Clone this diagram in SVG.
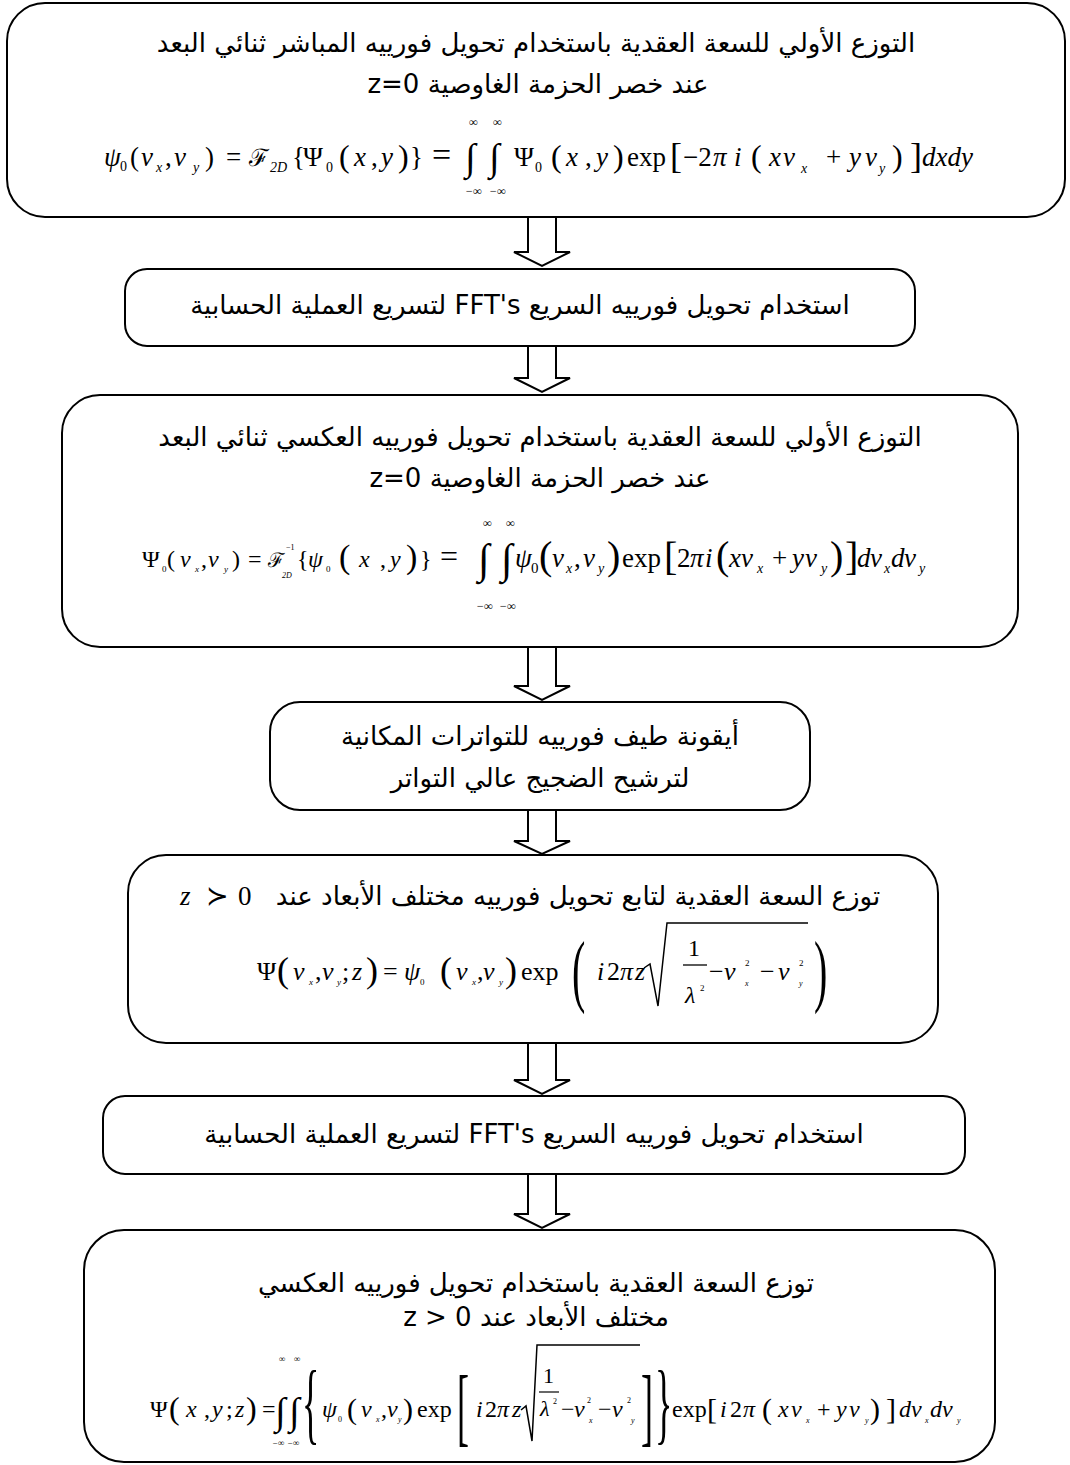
<svg xmlns="http://www.w3.org/2000/svg" width="1070" height="1465" viewBox="0 0 1070 1465">
<style>
.box{fill:#fff;stroke:#000;stroke-width:2}
.arr{fill:#fff;stroke:#000;stroke-width:2;stroke-linejoin:miter}
.ar{font-family:"DejaVu Sans","Noto Sans",sans-serif;font-size:26px;text-anchor:middle;direction:rtl;fill:#000}
.m{font-family:"Liberation Serif","DejaVu Serif",serif;fill:#000}
.i{font-style:italic}
.lim{font-family:"Liberation Serif",serif;font-style:italic}
</style>
<rect width="1070" height="1465" fill="#fff"/>
<g id="connectors">
<path class="arr" d="M528 217V252H514L542 266L570 252H556V217"/>
<path class="arr" d="M528 346V378H514L542 392L570 378H556V346"/>
<path class="arr" d="M528 647V686H514L542 700L570 686H556V647"/>
<path class="arr" d="M528 810V841H514L542 854L570 841H556V810"/>
<path class="arr" d="M528 1043V1080H514L542 1094L570 1080H556V1043"/>
<path class="arr" d="M528 1174V1214H514L542 1228L570 1214H556V1174"/>
</g>
<g id="n1">
<rect class="box" x="7" y="3" width="1058" height="214" rx="38"/>
<text class="ar" x="536" y="52">التوزع الأولي للسعة العقدية باستخدام تحويل فورييه المباشر ثنائي البعد</text>
<text class="ar" x="538" y="93">عند خصر الحزمة الغاوصية z=0</text>
<text class="m" y="166" style="font-size:27px"><tspan class="i" x="104">ψ</tspan><tspan x="120" y="171" style="font-size:14px">0</tspan><tspan x="130" y="166">(</tspan><tspan class="i" x="141">ν</tspan><tspan class="i" x="156" y="172" style="font-size:14px">x</tspan><tspan x="165" y="166">,</tspan><tspan class="i" x="174">ν</tspan><tspan class="i" x="193" y="172" style="font-size:14px">y</tspan><tspan x="205" y="166">)</tspan><tspan x="226">=</tspan><tspan x="249" style="font-size:24px">ℱ</tspan><tspan class="i" x="270" y="172" style="font-size:14px">2D</tspan><tspan x="292" y="166">{</tspan><tspan x="303">Ψ</tspan><tspan x="326" y="172" style="font-size:14px">0</tspan><tspan x="339" y="167" style="font-size:32px">(</tspan><tspan class="i" x="354" y="166">x</tspan><tspan x="371">,</tspan><tspan class="i" x="381">y</tspan><tspan x="398" y="167" style="font-size:32px">)</tspan><tspan x="410" y="166">}</tspan><tspan x="432" style="font-size:34px">=</tspan><tspan x="465" y="170" style="font-size:38px">∫</tspan><tspan x="489" style="font-size:38px">∫</tspan><tspan x="514" y="166">Ψ</tspan><tspan x="535" y="172" style="font-size:14px">0</tspan><tspan x="551" y="167" style="font-size:32px">(</tspan><tspan class="i" x="566" y="166">x</tspan><tspan x="585">,</tspan><tspan class="i" x="596">y</tspan><tspan x="613" y="167" style="font-size:32px">)</tspan><tspan x="627" y="166">exp</tspan><tspan x="670" y="168" style="font-size:36px">[</tspan><tspan x="683" y="166">−2</tspan><tspan class="i" x="713">π</tspan><tspan class="i" x="734">i</tspan><tspan x="751" y="167" style="font-size:32px">(</tspan><tspan class="i" x="769" y="166">x</tspan><tspan class="i" x="783">ν</tspan><tspan class="i" x="801" y="173" style="font-size:14px">x</tspan><tspan x="826" y="166">+</tspan><tspan class="i" x="849">y</tspan><tspan class="i" x="865">ν</tspan><tspan class="i" x="879" y="173" style="font-size:14px">y</tspan><tspan x="892" y="167" style="font-size:32px">)</tspan><tspan x="910" y="168" style="font-size:36px">]</tspan><tspan class="i" x="922" y="166">dxdy</tspan></text>
<text class="lim" x="469" y="126" style="font-size:12px">∞</text><text class="lim" x="493" y="126" style="font-size:12px">∞</text>
<text class="lim" x="465" y="195" style="font-size:12px">−∞</text><text class="lim" x="489" y="195" style="font-size:12px">−∞</text>
</g>
<g id="n2">
<rect class="box" x="125" y="269" width="790" height="77" rx="22"/>
<text class="ar" x="520" y="314">استخدام تحويل فورييه السريع FFT's لتسريع العملية الحسابية</text>
</g>
<g id="n3">
<rect class="box" x="62" y="395" width="956" height="252" rx="38"/>
<text class="ar" x="540" y="446">التوزع الأولي للسعة العقدية باستخدام تحويل فورييه العكسي ثنائي البعد</text>
<text class="ar" x="540" y="487">عند خصر الحزمة الغاوصية z=0</text>
<text class="m" y="567" style="font-size:24px"><tspan x="142">Ψ</tspan><tspan x="162" y="572" style="font-size:9px">0</tspan><tspan x="167" y="567">(</tspan><tspan class="i" x="180">ν</tspan><tspan class="i" x="195" y="572" style="font-size:9px">x</tspan><tspan x="201" y="567">,</tspan><tspan class="i" x="208">ν</tspan><tspan class="i" x="224" y="572" style="font-size:9px">y</tspan><tspan x="232" y="567">)</tspan><tspan x="248">=</tspan><tspan x="268" style="font-size:20px">ℱ</tspan><tspan x="286" y="550" style="font-size:8px">−1</tspan><tspan class="i" x="282" y="578" style="font-size:8px">2D</tspan><tspan x="297" y="567">{</tspan><tspan class="i" x="308">ψ</tspan><tspan x="326" y="572" style="font-size:9px">0</tspan><tspan x="339" y="568" style="font-size:34px">(</tspan><tspan class="i" x="359" y="567">x</tspan><tspan x="380">,</tspan><tspan class="i" x="390">y</tspan><tspan x="406" y="568" style="font-size:34px">)</tspan><tspan x="420" y="567">}</tspan><tspan x="440" style="font-size:32px">=</tspan><tspan x="478" y="573" style="font-size:42px">∫</tspan><tspan x="501" style="font-size:42px">∫</tspan><tspan class="i" x="515" y="567" style="font-size:27px">ψ</tspan><tspan x="531" y="573" style="font-size:15px">0</tspan><tspan x="539" y="569" style="font-size:40px">(</tspan><tspan class="i" x="552" y="567" style="font-size:27px">ν</tspan><tspan class="i" x="566" y="573" style="font-size:14px">x</tspan><tspan x="574" y="567" style="font-size:27px">,</tspan><tspan class="i" x="583" style="font-size:27px">ν</tspan><tspan class="i" x="598" y="573" style="font-size:14px">y</tspan><tspan x="607" y="569" style="font-size:40px">)</tspan><tspan x="622" y="567" style="font-size:27px">exp</tspan><tspan x="664" y="570" style="font-size:40px">[</tspan><tspan x="677" y="567" style="font-size:27px">2</tspan><tspan class="i" x="690" style="font-size:27px">π</tspan><tspan class="i" x="705" style="font-size:27px">i</tspan><tspan x="716" y="569" style="font-size:40px">(</tspan><tspan class="i" x="729" y="567" style="font-size:27px">x</tspan><tspan class="i" x="741" style="font-size:27px">ν</tspan><tspan class="i" x="757" y="573" style="font-size:14px">x</tspan><tspan x="772" y="567" style="font-size:27px">+</tspan><tspan class="i" x="792" style="font-size:27px">y</tspan><tspan class="i" x="805" style="font-size:27px">ν</tspan><tspan class="i" x="821" y="573" style="font-size:14px">y</tspan><tspan x="830" y="569" style="font-size:40px">)</tspan><tspan x="845" y="570" style="font-size:40px">]</tspan><tspan class="i" x="857" y="567" style="font-size:27px">d</tspan><tspan class="i" x="870" style="font-size:27px">ν</tspan><tspan class="i" x="884" y="573" style="font-size:14px">x</tspan><tspan class="i" x="891" y="567" style="font-size:27px">d</tspan><tspan class="i" x="904" style="font-size:27px">ν</tspan><tspan class="i" x="919" y="573" style="font-size:14px">y</tspan></text>
<text class="lim" x="483" y="527" style="font-size:12px">∞</text><text class="lim" x="506" y="527" style="font-size:12px">∞</text>
<text class="lim" x="476" y="610" style="font-size:12px">−∞</text><text class="lim" x="499" y="610" style="font-size:12px">−∞</text>
</g>
<g id="n4">
<rect class="box" x="270" y="702" width="540" height="108" rx="30"/>
<text class="ar" x="540" y="745">أيقونة طيف فورييه للتواترات المكانية</text>
<text class="ar" x="540" y="787">لترشيح الضجيج عالي التواتر</text>
</g>
<g id="n5">
<rect class="box" x="128" y="855" width="810" height="188" rx="38"/>
<text class="ar" x="578" y="905">توزع السعة العقدية لتابع تحويل فورييه مختلف الأبعاد عند</text>
<text class="m i" x="180" y="905" style="font-size:27px">z</text><text class="m" x="206" y="905" style="font-size:27px">≻</text><text class="m" x="238" y="905" style="font-size:27px">0</text>
<text class="m" y="980" style="font-size:26px"><tspan x="257">Ψ</tspan><tspan x="277" y="982" style="font-size:36px">(</tspan><tspan class="i" x="293" y="980">ν</tspan><tspan class="i" x="309" y="985" style="font-size:9px">x</tspan><tspan x="315" y="980">,</tspan><tspan class="i" x="322">ν</tspan><tspan class="i" x="337" y="985" style="font-size:9px">y</tspan><tspan x="342" y="980">;</tspan><tspan class="i" x="352">z</tspan><tspan x="366" y="982" style="font-size:36px">)</tspan><tspan x="383" y="980">=</tspan><tspan class="i" x="404">ψ</tspan><tspan x="420" y="985" style="font-size:9px">0</tspan><tspan x="440" y="982" style="font-size:36px">(</tspan><tspan class="i" x="456" y="980">ν</tspan><tspan class="i" x="472" y="985" style="font-size:9px">x</tspan><tspan x="477" y="980">,</tspan><tspan class="i" x="483">ν</tspan><tspan class="i" x="499" y="985" style="font-size:9px">y</tspan><tspan x="505" y="982" style="font-size:36px">)</tspan><tspan x="521" y="980">exp</tspan></text>
<text class="m" transform="translate(572,997) scale(1,2)" style="font-size:40px">(</text>
<text class="m" y="980" style="font-size:26px"><tspan class="i" x="597">i</tspan><tspan x="607">2</tspan><tspan class="i" x="620">π</tspan><tspan class="i" x="635">z</tspan></text>
<path d="M644 968L650 964L658 1006L667 923H808" fill="none" stroke="#000" stroke-width="1.5"/>
<text class="m" x="688" y="956" style="font-size:24px">1</text>
<line x1="683" y1="965" x2="707" y2="965" stroke="#000" stroke-width="1.3"/>
<text class="m i" x="685" y="1003" style="font-size:24px">λ</text><text class="m" x="700" y="991" style="font-size:9px">2</text>
<text class="m" y="980" style="font-size:26px"><tspan x="709">−</tspan><tspan class="i" x="724">ν</tspan><tspan x="745" y="966" style="font-size:9px">2</tspan><tspan class="i" x="745" y="986" style="font-size:8px">x</tspan><tspan x="760" y="980">−</tspan><tspan class="i" x="778">ν</tspan><tspan x="799" y="966" style="font-size:9px">2</tspan><tspan class="i" x="799" y="986" style="font-size:8px">y</tspan></text>
<text class="m" transform="translate(814,997) scale(1,2)" style="font-size:40px">)</text>
</g>
<g id="n6">
<rect class="box" x="103" y="1096" width="862" height="78" rx="22"/>
<text class="ar" x="534" y="1143">استخدام تحويل فورييه السريع FFT's  لتسريع العملية الحسابية</text>
</g>
<g id="n7">
<rect class="box" x="84" y="1230" width="911" height="232" rx="40"/>
<text class="ar" x="536" y="1292">توزع السعة العقدية باستخدام تحويل فورييه العكسي</text>
<text class="ar" x="536" y="1326">مختلف الأبعاد عند z &gt; 0</text>
<text class="m" y="1417" style="font-size:24px"><tspan x="150">Ψ</tspan><tspan x="169" y="1419" style="font-size:32px">(</tspan><tspan class="i" x="186" y="1417">x</tspan><tspan x="204">,</tspan><tspan class="i" x="212">y</tspan><tspan x="226">;</tspan><tspan class="i" x="235">z</tspan><tspan x="246" y="1419" style="font-size:32px">)</tspan><tspan x="262" y="1417">=</tspan><tspan x="275" y="1424" style="font-size:38px">∫</tspan><tspan x="289" style="font-size:38px">∫</tspan></text>
<text class="lim" x="279" y="1362" style="font-size:9px">∞</text><text class="lim" x="294" y="1362" style="font-size:9px">∞</text>
<text class="lim" x="272" y="1446" style="font-size:9px">−∞</text><text class="lim" x="287" y="1446" style="font-size:9px">−∞</text>
<text class="m" transform="translate(302,1433) scale(1,2.5)" style="font-size:36px">{</text>
<text class="m" y="1417" style="font-size:24px"><tspan class="i" x="322">ψ</tspan><tspan x="338" y="1422" style="font-size:8px">0</tspan><tspan x="347" y="1419" style="font-size:30px">(</tspan><tspan class="i" x="361" y="1417">ν</tspan><tspan class="i" x="376" y="1422" style="font-size:8px">x</tspan><tspan x="381" y="1417">,</tspan><tspan class="i" x="387">ν</tspan><tspan class="i" x="398" y="1422" style="font-size:8px">y</tspan><tspan x="403" y="1419" style="font-size:30px">)</tspan><tspan x="417" y="1417">exp</tspan></text>
<text class="m" transform="translate(457,1435) scale(1,2.4)" style="font-size:36px">[</text>
<text class="m" y="1417" style="font-size:24px"><tspan class="i" x="476">i</tspan><tspan x="485">2</tspan><tspan class="i" x="497">π</tspan><tspan class="i" x="512">z</tspan></text>
<path d="M521 1410L526 1406L532 1441L537 1345H640" fill="none" stroke="#000" stroke-width="1.5"/>
<text class="m" x="543" y="1383" style="font-size:22px">1</text>
<line x1="539" y1="1392" x2="559" y2="1392" stroke="#000" stroke-width="1.2"/>
<text class="m i" x="540" y="1416" style="font-size:22px">λ</text><text class="m" x="553" y="1404" style="font-size:8px">2</text>
<text class="m" y="1417" style="font-size:24px"><tspan x="561">−</tspan><tspan class="i" x="574">ν</tspan><tspan x="587" y="1403" style="font-size:8px">2</tspan><tspan class="i" x="589" y="1423" style="font-size:8px">x</tspan><tspan x="598" y="1417">−</tspan><tspan class="i" x="612">ν</tspan><tspan x="627" y="1403" style="font-size:8px">2</tspan><tspan class="i" x="631" y="1423" style="font-size:8px">y</tspan></text>
<text class="m" transform="translate(641,1435) scale(1,2.4)" style="font-size:36px">]</text>
<text class="m" transform="translate(655,1433) scale(1,2.5)" style="font-size:36px">}</text>
<text class="m" y="1417" style="font-size:24px"><tspan x="672">exp</tspan><tspan x="707" y="1419" style="font-size:30px">[</tspan><tspan class="i" x="720" y="1417">i</tspan><tspan x="730">2</tspan><tspan class="i" x="743">π</tspan><tspan x="762" y="1419" style="font-size:30px">(</tspan><tspan class="i" x="778" y="1417">x</tspan><tspan class="i" x="791">ν</tspan><tspan class="i" x="806" y="1423" style="font-size:8px">x</tspan><tspan x="817" y="1417">+</tspan><tspan class="i" x="836">y</tspan><tspan class="i" x="849">ν</tspan><tspan class="i" x="865" y="1423" style="font-size:8px">y</tspan><tspan x="870" y="1419" style="font-size:30px">)</tspan><tspan x="886" style="font-size:30px">]</tspan><tspan class="i" x="899" y="1417">d</tspan><tspan class="i" x="911">ν</tspan><tspan class="i" x="925" y="1423" style="font-size:8px">x</tspan><tspan class="i" x="930" y="1417">d</tspan><tspan class="i" x="942">ν</tspan><tspan class="i" x="957" y="1423" style="font-size:8px">y</tspan></text>
</g>
</svg>
